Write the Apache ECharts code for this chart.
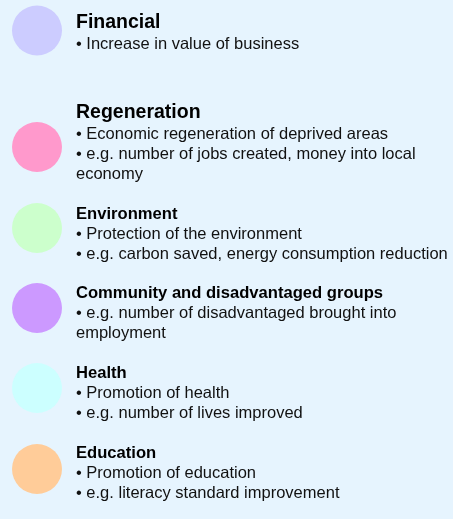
<!DOCTYPE html>
<html>
<head>
<meta charset="utf-8">
<script src="https://cdn.jsdelivr.net/npm/echarts@6/dist/echarts.min.js"></script>
<style>
  html, body { margin: 0; padding: 0; background: #e6f4fe; }
  #chart { width: 453px; height: 519px; }
</style>
</head>
<body>
<div id="chart"></div>
<script>
// content of the panel, one entry per benefit type
const categories = ['Financial', 'Regeneration', 'Environment', 'Community and disadvantaged groups', 'Health', 'Education'];
const bullets = [
    ['• Increase in value of business'],
    ['• Economic regeneration of deprived areas', '• e.g. number of jobs created, money into local', 'economy'],
    ['• Protection of the environment', '• e.g. carbon saved, energy consumption reduction'],
    ['• e.g. number of disadvantaged brought into', 'employment'],
    ['• Promotion of health', '• e.g. number of lives improved'],
    ['• Promotion of education', '• e.g. literacy standard improvement']
];
const majorHeading = [true, true, false, false, false, false];
const dotColors = ['#ccccff', '#ff99cc', '#ccffcc', '#cc99ff', '#ccffff', '#ffcc99'];

// layout (rows down the panel, in axis units = px)
const dotX = 37;
const rowY = [30.5, 147, 228, 308, 388, 469];
const textX = 76;
const textTop = [10.5, 100.5, 204, 283, 363, 443];

const font = "'Liberation Sans', Arial, Helvetica, sans-serif";

const chart = echarts.init(document.getElementById('chart'));

const dots = categories.map(function (name, i) {
    return { name: name, value: [dotX, rowY[i]], itemStyle: { color: dotColors[i] } };
});

const texts = categories.map(function (name, i) {
    const head = majorHeading[i] ? 'h1' : 'h2';
    const lines = ['{' + head + '|' + name + '}'].concat(bullets[i].map(function (l) {
        return '{b|' + l + '}';
    }));
    return { name: name, value: [textX, textTop[i]], label: { formatter: lines.join('\n') } };
});

chart.setOption({
    backgroundColor: '#e6f4fe',
    animation: false,
    grid: { left: 0, right: 0, top: 0, bottom: 0 },
    xAxis: { type: 'value', min: 0, max: 453, show: false },
    yAxis: { type: 'value', min: 0, max: 519, inverse: true, show: false },
    series: [
        {
            type: 'scatter',
            symbol: 'circle',
            symbolSize: 50,
            silent: true,
            itemStyle: { opacity: 1 },
            data: dots
        },
        {
            type: 'scatter',
            symbolSize: 0,
            silent: true,
            itemStyle: { opacity: 1 },
            data: texts,
            label: {
                show: true,
                position: [0, 0],
                align: 'left',
                verticalAlign: 'top',
                fontFamily: font,
                color: '#000',
                rich: {
                    h1: { fontFamily: font, fontSize: 19.5, fontWeight: 'bold', lineHeight: 24, color: '#000' },
                    h2: { fontFamily: font, fontSize: 16.6, fontWeight: 'bold', lineHeight: 20, color: '#000' },
                    b: { fontFamily: font, fontSize: 16.5, lineHeight: 20, color: '#111' }
                }
            }
        }
    ]
});
</script>
</body>
</html>
